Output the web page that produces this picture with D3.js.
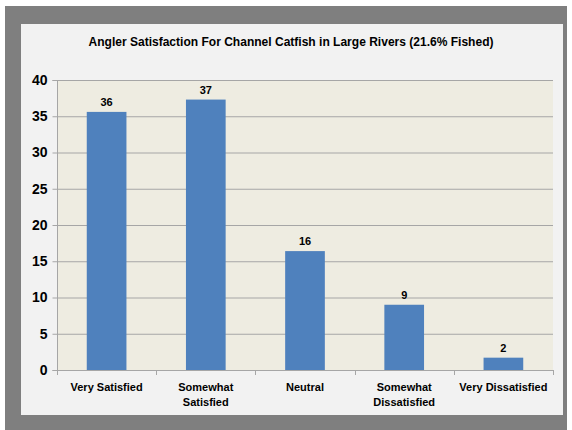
<!DOCTYPE html>
<html>
<head>
<meta charset="utf-8">
<script src="https://cdn.jsdelivr.net/npm/d3@7"></script>
<style>
  body { margin: 0; background: #fff; }
  text { font-family: "Liberation Sans", Arial, sans-serif; font-weight: bold; fill: #000; }
</style>
</head>
<body>
<div id="chart"></div>
<script>
// chart values
var categories = ["Very Satisfied", "Somewhat Satisfied", "Neutral", "Somewhat Dissatisfied", "Very Dissatisfied"];
var catLines = [["Very Satisfied"], ["Somewhat", "Satisfied"], ["Neutral"], ["Somewhat", "Dissatisfied"], ["Very Dissatisfied"]];
var percents = [35.6, 37.3, 16.4, 9.0, 1.7];
var valueLabels = ["36", "37", "16", "9", "2"];
var yTicks = [0, 5, 10, 15, 20, 25, 30, 35, 40];
var title = "Angler Satisfaction For Channel Catfish in Large Rivers (21.6% Fished)";

var width = 572, height = 430;
var plot = { left: 57, right: 553, top: 80, bottom: 370 };

var svg = d3.select("#chart").append("svg")
  .attr("width", width)
  .attr("height", height);

// frame: gray border + light panel
svg.append("rect").attr("x", 5).attr("y", 6).attr("width", 562).attr("height", 424).attr("fill", "#7f7f7f");
svg.append("rect").attr("x", 21).attr("y", 24).attr("width", 542).attr("height", 391).attr("fill", "#f2f2f2");

// plot background
svg.append("rect")
  .attr("x", plot.left).attr("y", plot.top)
  .attr("width", plot.right - plot.left).attr("height", plot.bottom - plot.top)
  .attr("fill", "#eeece1");

var x = d3.scaleBand()
  .domain(categories)
  .range([plot.left, plot.right])
  .paddingInner(0.6)
  .paddingOuter(0.3);

var y = d3.scaleLinear()
  .domain([0, 40])
  .range([plot.bottom, plot.top]);

// gridlines
svg.append("g").selectAll("line.grid")
  .data(yTicks.filter(d => d > 0))
  .enter().append("line")
  .attr("class", "grid")
  .attr("x1", plot.left).attr("x2", plot.right)
  .attr("y1", d => y(d) + 0.5).attr("y2", d => y(d) + 0.5)
  .attr("stroke", "#a6a6a6").attr("stroke-width", 1);

// bars
svg.append("g").selectAll("rect.bar")
  .data(percents)
  .enter().append("rect")
  .attr("class", "bar")
  .attr("x", (d, i) => x(categories[i]))
  .attr("y", d => y(d))
  .attr("width", x.bandwidth())
  .attr("height", d => y(0) - y(d))
  .attr("fill", "#4f81bd");

// value labels
svg.append("g").selectAll("text.val")
  .data(percents)
  .enter().append("text")
  .attr("class", "val")
  .attr("x", (d, i) => x(categories[i]) + x.bandwidth() / 2)
  .attr("y", d => y(d) - 6)
  .attr("text-anchor", "middle")
  .style("font-size", "11px")
  .text((d, i) => valueLabels[i]);

// y axis
var yAxis = svg.append("g")
  .attr("transform", "translate(" + (plot.left + 0.5) + ",0)")
  .call(d3.axisLeft(y).tickValues(yTicks).tickSize(5).tickPadding(5));
yAxis.select(".domain").attr("stroke", "#a6a6a6").attr("d", "M-5," + (plot.top + 0.5) + "H0V" + (plot.bottom + 0.5) + "H-5");
yAxis.selectAll(".tick line").attr("stroke", "#a6a6a6");
yAxis.selectAll(".tick text").style("font-size", "14px").style("font-family", null);

// x axis
var bounds = d3.range(categories.length + 1).map(i => plot.left + i * x.step() - x.step() * 0.3 + x.step() * 0.3);
var xAxis = svg.append("g");
xAxis.append("line")
  .attr("x1", plot.left).attr("x2", plot.right)
  .attr("y1", plot.bottom + 0.5).attr("y2", plot.bottom + 0.5)
  .attr("stroke", "#a6a6a6");
xAxis.selectAll("line.tick")
  .data(bounds)
  .enter().append("line")
  .attr("class", "tick")
  .attr("x1", d => Math.round(d) + 0.5).attr("x2", d => Math.round(d) + 0.5)
  .attr("y1", plot.bottom).attr("y2", plot.bottom + 5)
  .attr("stroke", "#a6a6a6");

var xl = xAxis.selectAll("text.cat")
  .data(categories)
  .enter().append("text")
  .attr("class", "cat")
  .attr("text-anchor", "middle")
  .attr("x", d => x(d) + x.bandwidth() / 2)
  .attr("y", plot.bottom + 21)
  .style("font-size", "11px");
xl.each(function (d, i) {
  var t = d3.select(this);
  catLines[i].forEach((line, j) => {
    t.append("tspan")
      .attr("x", x(d) + x.bandwidth() / 2)
      .attr("dy", j === 0 ? 0 : 15)
      .text(line);
  });
});

// title
svg.append("text")
  .attr("x", 291)
  .attr("y", 46)
  .attr("text-anchor", "middle")
  .style("font-size", "12px")
  .attr("textLength", 405)
  .attr("lengthAdjust", "spacingAndGlyphs")
  .text(title);
</script>
</body>
</html>
